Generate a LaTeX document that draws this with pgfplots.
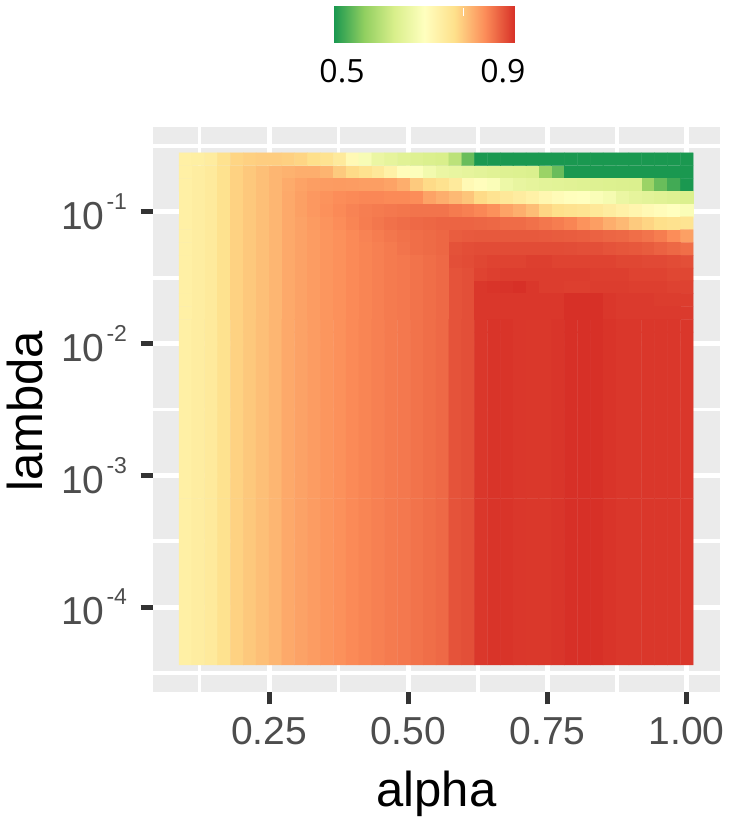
\documentclass[border=0pt]{standalone}
\usepackage{fontspec}
\setmainfont{Liberation Sans}
\newfontfamily\keyfont{Open Sans}
\usepackage{pgfplots}
\pgfplotsset{compat=1.18}
\definecolor{panelgrey}{HTML}{EBEBEB}
\definecolor{ticklab}{HTML}{4D4D4D}
\definecolor{tickdark}{HTML}{333333}
\newcommand{\ylab}[1]{10\kern2pt\raisebox{20pt}{\fontsize{23}{23}\selectfont #1}}
\begin{document}
\begin{tikzpicture}[x=1pt,y=1pt]
\path[use as bounding box] (0,0) rectangle (729,822);
\begin{axis}[
  at={(153pt,130pt)},anchor=south west,
  width=567pt,height=565pt,scale only axis,
  xmin=0.0417,xmax=1.0598,
  ymode=log,ymin=2.265e-5,ymax=0.442,
  colormap={rdylgn}{rgb255=(26,152,80) rgb255=(145,207,96) rgb255=(217,239,139) rgb255=(255,255,191) rgb255=(254,224,139) rgb255=(252,141,89) rgb255=(215,48,39)},
  point meta min=0.48,point meta max=0.93,
  axis background/.style={fill=panelgrey},
  axis line style={draw=none},
  grid=both,
  major grid style={white,line width=5pt},
  minor grid style={white,line width=3.5pt},
  xtick={0.25,0.5,0.75,1},
  minor xtick={0.125,0.375,0.625,0.875},
  ytick={1e-4,1e-3,1e-2,1e-1},
  yticklabels={\ylab{-4},\ylab{-3},\ylab{-2},\ylab{-1}},
  minor ytick={3.162e-5,3.162e-4,3.162e-3,3.162e-2,0.3162},
  tick align=outside,tick pos=left,
  major tick length=12.5pt,minor tick length=0pt,
  major tick style={tickdark,line width=5pt},
  tick label style={font=\fontsize{39}{39}\selectfont,text=ticklab},
  yticklabel style={xshift=-10pt},
  xticklabel style={yshift=-9pt,/pgf/number format/assume math mode=true,/pgf/number format/fixed,/pgf/number format/fixed zerofill,/pgf/number format/precision=2},
  xlabel={alpha},ylabel={lambda},
  label style={font=\fontsize{49}{49}\selectfont,text=black},
  xlabel style={at={(axis description cs:0.5,-0.2035)},anchor=base},
  ylabel style={at={(axis description cs:-0.225,0.497)},anchor=center,rotate=0},
  colorbar horizontal,
  colorbar/width=36pt,
  colorbar style={
    at={(0.3192,1.1504)},anchor=south west,
    width=181pt,scale only axis,
    xtick={0.5,0.9},minor xtick={},grid=none,
    major tick length=0pt,
    axis line style={draw=none},
    xticklabel pos=lower,
    xticklabel style={yshift=-14pt,font=\keyfont\fontsize{32}{32}\selectfont,text=black,/pgf/number format/assume math mode=true,/pgf/number format/fixed,/pgf/number format/fixed zerofill,/pgf/number format/precision=1},
    ytick=\empty,
  },
]
\addplot[matrix plot*,draw=mapped color,line width=0.4pt,mesh/cols=40,point meta=explicit]
 table[row sep=\\,header=false,meta index=0,
  x expr={0.1+mod(\coordindex,40)*0.023077},
  y expr={10^(-0.6-0.09718*floor((\coordindex+0.5)/40))}] {
.742\\.745\\.752\\.775\\.790\\.795\\.797\\.797\\.795\\.790\\.780\\.772\\.755\\.720\\.690\\.665\\.655\\.645\\.640\\.635\\.630\\.600\\.530\\.480\\.480\\.480\\.480\\.480\\.480\\.480\\.480\\.480\\.480\\.480\\.480\\.480\\.480\\.480\\.480\\.480\\
.742\\.748\\.755\\.775\\.793\\.802\\.810\\.818\\.822\\.825\\.825\\.820\\.800\\.785\\.775\\.760\\.740\\.712\\.700\\.680\\.665\\.660\\.655\\.650\\.645\\.640\\.638\\.635\\.565\\.530\\.480\\.480\\.480\\.480\\.480\\.480\\.480\\.480\\.480\\.480\\
.742\\.748\\.755\\.775\\.793\\.802\\.810\\.818\\.828\\.835\\.840\\.842\\.843\\.842\\.840\\.840\\.835\\.825\\.800\\.785\\.775\\.755\\.720\\.710\\.695\\.670\\.660\\.655\\.650\\.648\\.645\\.642\\.640\\.638\\.636\\.635\\.565\\.530\\.505\\.480\\
.742\\.748\\.755\\.775\\.793\\.802\\.810\\.818\\.830\\.838\\.845\\.850\\.855\\.858\\.860\\.860\\.858\\.858\\.855\\.835\\.825\\.815\\.805\\.785\\.772\\.760\\.750\\.740\\.725\\.715\\.708\\.705\\.695\\.685\\.665\\.655\\.650\\.645\\.640\\.635\\
.742\\.748\\.755\\.775\\.793\\.802\\.810\\.818\\.830\\.838\\.845\\.852\\.858\\.863\\.867\\.870\\.872\\.874\\.875\\.875\\.875\\.870\\.866\\.860\\.852\\.835\\.825\\.812\\.790\\.780\\.775\\.770\\.760\\.750\\.740\\.730\\.720\\.712\\.705\\.695\\
.742\\.748\\.755\\.775\\.793\\.802\\.810\\.818\\.830\\.836\\.843\\.849\\.855\\.862\\.868\\.873\\.878\\.881\\.884\\.886\\.888\\.888\\.888\\.887\\.885\\.882\\.882\\.878\\.873\\.868\\.862\\.850\\.840\\.825\\.815\\.800\\.790\\.780\\.775\\.770\\
.742\\.748\\.755\\.775\\.793\\.802\\.810\\.818\\.830\\.836\\.842\\.847\\.852\\.858\\.863\\.868\\.873\\.877\\.880\\.883\\.886\\.894\\.896\\.897\\.897\\.897\\.897\\.897\\.896\\.895\\.894\\.892\\.890\\.887\\.885\\.880\\.875\\.868\\.855\\.838\\
.742\\.748\\.755\\.775\\.793\\.802\\.810\\.818\\.830\\.836\\.842\\.847\\.852\\.858\\.862\\.866\\.870\\.875\\.880\\.883\\.886\\.903\\.906\\.908\\.908\\.908\\.908\\.908\\.908\\.908\\.907\\.905\\.905\\.902\\.900\\.898\\.895\\.890\\.885\\.880\\
.742\\.748\\.755\\.775\\.793\\.802\\.810\\.818\\.830\\.836\\.842\\.847\\.852\\.858\\.862\\.866\\.870\\.872\\.876\\.880\\.884\\.905\\.908\\.912\\.915\\.915\\.915\\.918\\.918\\.915\\.915\\.915\\.915\\.915\\.912\\.912\\.910\\.910\\.908\\.905\\
.742\\.748\\.755\\.775\\.793\\.802\\.810\\.818\\.830\\.836\\.842\\.847\\.852\\.858\\.862\\.866\\.870\\.872\\.876\\.880\\.884\\.902\\.905\\.915\\.918\\.920\\.920\\.920\\.920\\.920\\.920\\.920\\.918\\.918\\.918\\.915\\.915\\.915\\.912\\.912\\
.742\\.748\\.755\\.775\\.793\\.802\\.810\\.818\\.830\\.836\\.842\\.847\\.852\\.858\\.862\\.866\\.870\\.872\\.876\\.880\\.884\\.902\\.905\\.925\\.927\\.928\\.930\\.925\\.920\\.920\\.918\\.918\\.920\\.920\\.920\\.918\\.918\\.918\\.916\\.916\\
.742\\.748\\.755\\.775\\.793\\.802\\.810\\.818\\.830\\.836\\.842\\.847\\.852\\.858\\.862\\.866\\.870\\.872\\.876\\.880\\.884\\.902\\.905\\.925\\.925\\.925\\.925\\.925\\.925\\.925\\.930\\.930\\.930\\.925\\.922\\.922\\.922\\.920\\.920\\.920\\
.742\\.748\\.755\\.775\\.793\\.802\\.810\\.818\\.830\\.836\\.842\\.847\\.852\\.858\\.862\\.866\\.870\\.872\\.876\\.880\\.884\\.902\\.905\\.925\\.925\\.925\\.925\\.925\\.925\\.925\\.930\\.930\\.930\\.925\\.922\\.922\\.922\\.922\\.922\\.922\\
.742\\.748\\.755\\.775\\.793\\.802\\.810\\.818\\.830\\.836\\.842\\.847\\.852\\.858\\.862\\.866\\.870\\.872\\.876\\.880\\.884\\.902\\.905\\.925\\.927\\.927\\.925\\.924\\.924\\.926\\.930\\.930\\.930\\.927\\.925\\.925\\.925\\.925\\.925\\.925\\
};
\addplot[matrix plot*,draw=mapped color,line width=0.4pt,mesh/cols=40,point meta=explicit]
 table[row sep=\\,header=false,meta index=0,
  x expr={0.1+mod(\coordindex,40)*0.023077},
  y expr={10^(-0.6-0.09718*(20+13*floor((\coordindex+0.5)/40)))}] {
.742\\.748\\.755\\.775\\.793\\.802\\.810\\.818\\.830\\.836\\.842\\.847\\.852\\.858\\.862\\.866\\.870\\.872\\.876\\.880\\.884\\.902\\.905\\.925\\.927\\.927\\.925\\.924\\.924\\.926\\.930\\.930\\.930\\.927\\.925\\.925\\.925\\.925\\.925\\.925\\
.742\\.748\\.755\\.775\\.793\\.802\\.810\\.818\\.830\\.836\\.842\\.847\\.852\\.858\\.862\\.866\\.870\\.872\\.876\\.880\\.884\\.902\\.905\\.925\\.927\\.927\\.925\\.924\\.924\\.926\\.930\\.930\\.930\\.927\\.925\\.925\\.925\\.925\\.925\\.925\\
};
\end{axis}
\draw[white,line width=0.8pt] (463,806) -- (463,814);
\end{tikzpicture}
\end{document}
